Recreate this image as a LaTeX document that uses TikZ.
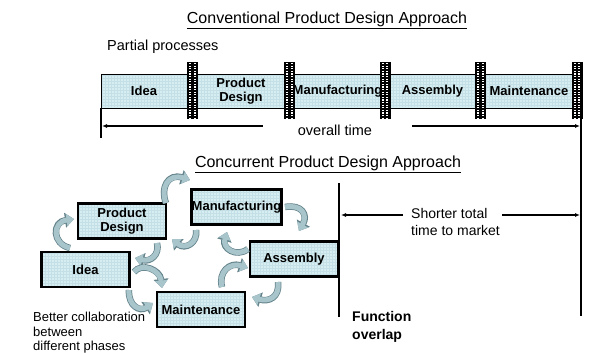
\documentclass[tikz,border=0pt]{standalone}
\usepackage{fontspec}
\setmainfont{Liberation Sans}
\usetikzlibrary{arrows.meta}
\definecolor{barblue}{RGB}{214,237,241}
\definecolor{gridblue}{RGB}{196,224,230}
\definecolor{swirlfill}{RGB}{168,197,204}
\definecolor{swirledge}{RGB}{100,130,138}
\tikzset{
    phase/.style={draw, line width=2.5pt, fill=barblue, minimum width=88pt, minimum height=35pt,
        inner xsep=0pt, align=center, font=\fontsize{13}{14}\selectfont\bfseries,
        path picture={\draw[gridblue, line width=0.3pt, step=3pt]
            (path picture bounding box.south west) grid (path picture bounding box.north east);}},
    stage/.style={align=center, inner sep=0pt, font=\fontsize{13}{14}\selectfont\bfseries},
    joint/.style={fill=black, minimum width=11pt, minimum height=57pt, inner sep=0pt,
        path picture={
            \foreach \dx in {-2.3,2.3}
                \draw[white, line width=2pt, dash pattern=on 1.3pt off 1.3pt]
                    ([xshift=\dx pt,yshift=-1pt]path picture bounding box.north) --
                    ([xshift=\dx pt,yshift=1pt]path picture bounding box.south);
        }},
    swirl/.style={draw=swirlfill, line width=5pt, -{Triangle[length=7.5pt,width=12pt]},
        preaction={draw=swirledge, line width=6.5pt, -{Triangle[length=9pt,width=14.5pt]}}},
    timeline/.style={line width=1.2pt, -{Latex[length=5pt,width=4pt]}},
}
\begin{document}
\begin{tikzpicture}[x=1pt, y=-1pt]
    \useasboundingbox (0,0) rectangle (603,353);

    % conventional approach
    \node[font=\fontsize{16}{18}\selectfont] (convtitle) at (327,20) {\underline{Conventional Product Design Approach}};
    \node[anchor=west, inner sep=0pt, font=\fontsize{14.5}{16}\selectfont] (partial) at (107,47) {Partial processes};

    \draw[line width=0.6pt, fill=barblue] (101,74) rectangle (577,108);
    \draw[gridblue, line width=0.3pt, step=3pt] (101.5,74.5) grid (576.5,107.5);
    \draw[line width=0.6pt] (101,74) rectangle (577,108);
    \foreach \n/\x/\t in {s1/144/Idea, s2/241/{Product\\Design}, s3/337.5/Manufacturing, s4/432.5/Assembly, s5/529/Maintenance}
        \node[stage] (\n) at (\x,91) {\t};
    \foreach \n/\x in {j1/192.5, j2/289.5, j3/385, j4/480.5, j5/577}
        \node[joint] (\n) at (\x,90.5) {};

    \draw[line width=1.2pt] (101,108) -- (101,138);
    \draw[line width=2.5pt] (581,119) -- (581,316);

    \node[inner sep=0pt, font=\fontsize{14.5}{16}\selectfont] (overall) at (335,130) {overall time};
    \coordinate (ot-l) at (102,126);
    \coordinate (ot-r) at (580,126);
    \draw[timeline] ([xshift=-35pt]overall.west |- ot-l) -- (ot-l);
    \draw[timeline] ([xshift=40pt]overall.east |- ot-r) -- (ot-r);

    % concurrent approach
    \node[font=\fontsize{16}{18}\selectfont] (conctitle) at (328,164) {\underline{Concurrent Product Design Approach}};

    \draw[line width=1.8pt] (339,183) -- (339,317);
    \node[anchor=west, align=left, inner sep=0pt, font=\fontsize{14}{17}\selectfont] (shorter) at (411,222) {Shorter total\\time to market};
    \coordinate (sh-l) at (341,215);
    \coordinate (sh-r) at (580,215);
    \draw[timeline] ([xshift=-8pt]shorter.west |- sh-l) -- (sh-l);
    \draw[timeline] ([xshift=2pt]shorter.east |- sh-r) -- (sh-r);

    \node[phase] (design) at (122,221) {Product\\Design};
    \node[phase] (manuf) at (236.5,207) {Manufacturing};
    \node[phase] (assem) at (294,259) {Assembly};
    \node[phase] (idea) at (85.5,269.5) {Idea};
    \node[phase] (maint) at (201,309.5) {Maintenance};

    % swirling arrows between the phases
    \draw[swirl] (70,248) .. controls (52,244) and (52,222) .. (74,219);
    \draw[swirl] (166,203) .. controls (160,188) and (168,173) .. (190,180);
    \draw[swirl] (196,230) .. controls (198,243) and (185,250) .. (172,239);
    \draw[swirl] (157,243) .. controls (160,255) and (150,262) .. (135,258);
    \draw[swirl] (285,207) .. controls (302,204) and (308,215) .. (299,231);
    \draw[swirl] (248,249) .. controls (236,258) and (222,248) .. (227,232);
    \draw[swirl] (222,287) .. controls (218,272) and (230,262) .. (248,268);
    \draw[swirl] (134,272) .. controls (142,262) and (160,270) .. (162,288);
    \draw[swirl] (129,290) .. controls (128,306) and (140,312) .. (153,303);
    \draw[swirl] (278,282) .. controls (280,298) and (268,302) .. (252,297);

    \node[anchor=north west, align=left, inner sep=0pt, font=\fontsize{13}{14.5}\selectfont] (collab) at (33,312) {Better collaboration\\between\\different phases};
    \node[anchor=north west, align=left, inner sep=0pt, font=\fontsize{14}{18}\selectfont\bfseries] (overlap) at (352,311) {Function\\overlap};
\end{tikzpicture}
\end{document}
